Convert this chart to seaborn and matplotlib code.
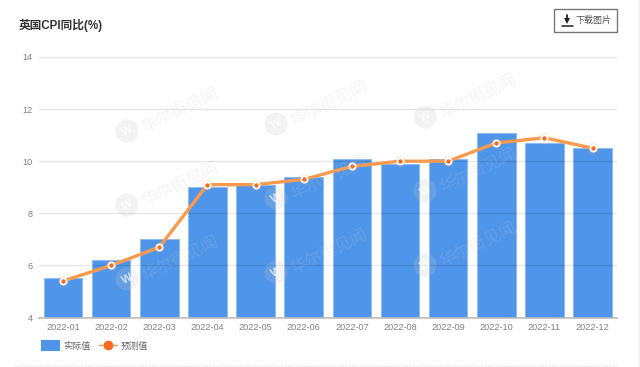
import matplotlib
matplotlib.use("Agg")
import matplotlib.pyplot as plt
import pandas as pd
import seaborn as sns
from matplotlib.lines import Line2D
from matplotlib.patches import Circle, Patch, Rectangle

months = ["2022-01", "2022-02", "2022-03", "2022-04", "2022-05", "2022-06",
          "2022-07", "2022-08", "2022-09", "2022-10", "2022-11", "2022-12"]
actual = [5.5, 6.2, 7.0, 9.0, 9.1, 9.4, 10.1, 9.9, 10.1, 11.1, 10.7, 10.5]
forecast = [5.4, 6.0, 6.7, 9.1, 9.1, 9.3, 9.8, 10.0, 10.0, 10.7, 10.9, 10.5]
yticks = [4, 6, 8, 10, 12, 14]

sns.set_theme(style="white")
plt.rcParams['font.family'] = ['Liberation Sans', 'Noto Sans CJK SC', 'DejaVu Sans']

df = pd.DataFrame({"month": months, "actual": actual, "forecast": forecast})

W, H = 640, 367
fig = plt.figure(figsize=(W / 100, H / 100), dpi=100)
ax = fig.add_axes([39 / W, 1 - 317.5 / H, 577.6 / W, 260.5 / H])

sns.barplot(data=df, x="month", y="actual", color="#4f96ea", saturation=1,
            width=0.8, edgecolor="#8fbdf2", linewidth=0.7, ax=ax, zorder=2)
sns.lineplot(data=df, x="month", y="forecast", color="#fb9a4f", linewidth=2.4,
             ax=ax, zorder=3, errorbar=None)
# soft halo round the points
sns.scatterplot(data=df, x="month", y="forecast", color="#fb9a4f", s=75, alpha=0.12,
                linewidth=0, ax=ax, zorder=3)
sns.scatterplot(data=df, x="month", y="forecast", color="#fb6a21", s=20,
                edgecolor="white", linewidth=1.3, ax=ax, zorder=4)

ax.set_xlim(-0.5, 11.5)
ax.set_ylim(4, 14)
ax.set_yticks(yticks)
ax.set_xlabel("")
ax.set_ylabel("")
# grid shows through the bars in the original
ax.set_axisbelow(False)
ax.grid(axis="y", color="black", alpha=0.09, linewidth=1)
sns.despine(ax=ax, left=True, right=True, top=True)
ax.spines["bottom"].set_color("#bdbdbd")
ax.spines["bottom"].set_linewidth(1.2)
ax.tick_params(axis="x", length=0, pad=4, labelsize=6.6, labelcolor="#808080")
ax.tick_params(axis="y", length=0, pad=4.4, labelsize=6.6, labelcolor="#808080")

# watermark
for wx, wy in [(127, 131), (276, 124), (425, 117), (127, 205), (276, 198), (425, 191),
               (127, 279), (276, 272), (425, 265)]:
    fig.add_artist(Circle((wx, H - wy), 11.5, transform=None, color="#c4c4c4",
                          alpha=0.2, lw=0, zorder=5))
    fig.text(wx / W, 1 - wy / H, "W", fontsize=8, fontweight="bold", color="white", alpha=0.7,
             rotation=26, ha="center", va="center", zorder=5)
    fig.text((wx + 15) / W, 1 - (wy - 3) / H, "华尔街见闻", fontsize=12, color="#c4c4c4",
             alpha=0.18, rotation=26, ha="left", va="center", rotation_mode="anchor",
             zorder=5)

fig.text(19 / W, 1 - 25 / H, "英国CPI同比(%)", fontsize=8.4, fontweight="bold",
         color="#333333", ha="left", va="center")

# download button
fig.add_artist(Rectangle((554, H - 32), 62.5, 23.3, transform=None,
                         fc="white", ec="#777777", lw=1))
fig.add_artist(Line2D([567 / W, 567 / W], [1 - 15 / H, 1 - 20 / H], color="#222222", lw=1.3))
fig.add_artist(Line2D([567 / W], [1 - 21 / H], color="#222222", marker="v", ms=5, mew=0))
fig.add_artist(Line2D([561.5 / W, 572.5 / W], [1 - 25.5 / H, 1 - 25.5 / H], color="#222222", lw=1.1))
fig.text(575 / W, 1 - 20.5 / H, "下载图片", fontsize=6.5, color="#555555", ha="left", va="center")

# legend
handles = [Patch(fc="#4f96ea", ec="#4f96ea", lw=1.5, joinstyle="round"),
           Line2D([], [], color="#fb9a4f", lw=1, marker="o", ms=6, mfc="#fb6a21", mec="#fb6a21")]
fig.legend(handles, ["实际值", "预测值"], loc="center left", bbox_to_anchor=(41.5 / W, 1 - 346 / H),
           ncol=2, frameon=False, fontsize=6.6, labelcolor="#666666", handlelength=1.95,
           handleheight=1.0, handletextpad=0.4, columnspacing=0.9, borderpad=0, borderaxespad=0)

# dotted rule at the bottom and strip at the right
fig.add_artist(Line2D([15 / W, 616 / W], [1 - 366 / H, 1 - 366 / H], color="#dddddd", lw=0.8,
                      ls=(0, (1, 1.5))))
fig.add_artist(Line2D([639.3 / W, 639.3 / W], [0, 1], color="#f4f4f4", lw=1.5))

fig.savefig("out.png", dpi=100)
